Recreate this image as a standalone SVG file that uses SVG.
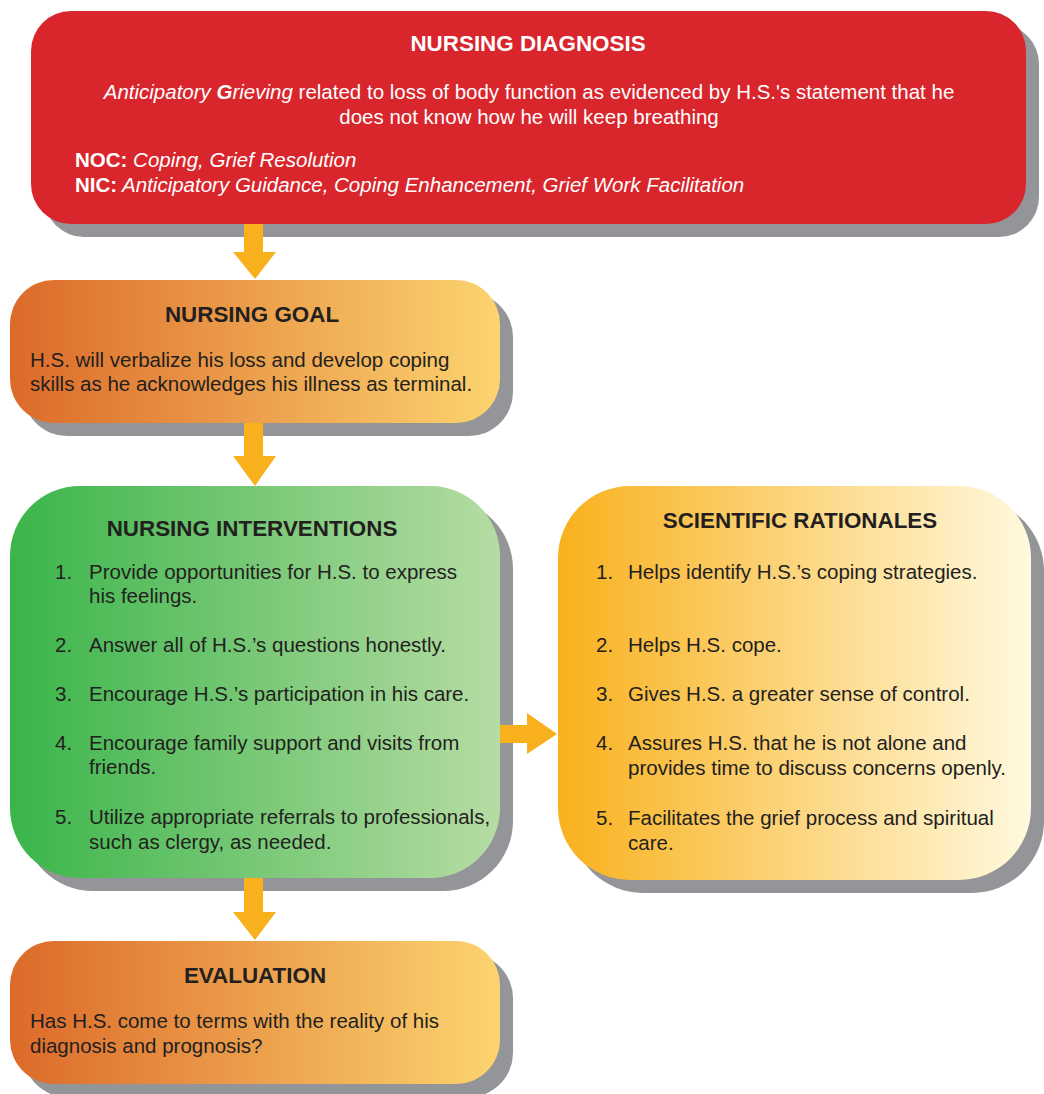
<svg xmlns="http://www.w3.org/2000/svg" width="1044" height="1094" viewBox="0 0 1044 1094">
<style>
text{font-family:"Liberation Sans",Arial,Helvetica,sans-serif;font-size:20.5px;fill:#231f20}
.t{font-size:22.4px;font-weight:bold;text-anchor:middle}
.w{fill:#ffffff}
.c{text-anchor:middle}
.i{font-style:italic}
.b{font-weight:bold}
.sh{fill:#939598}
.ar{fill:#f8b01c}
</style>
<defs>
<linearGradient id="gOr" x1="0" y1="0" x2="1" y2="0"><stop offset="0" stop-color="#dc6a29"/><stop offset="1" stop-color="#fcd46f"/></linearGradient>
<linearGradient id="gGr" x1="0" y1="0" x2="1" y2="0"><stop offset="0" stop-color="#3ab54a"/><stop offset="1" stop-color="#b6dca3"/></linearGradient>
<linearGradient id="gYe" x1="0" y1="0" x2="1" y2="0"><stop offset="0" stop-color="#f9b11d"/><stop offset="1" stop-color="#fff9de"/></linearGradient>
</defs>

<g id="nursing-diagnosis">
<rect class="sh" x="44" y="24" width="995" height="213" rx="40"/>
<rect x="31" y="11" width="995" height="213" rx="40" fill="#d9252c"/>
<text class="t w" x="528" y="51">NURSING DIAGNOSIS</text>
<text class="c w" x="529" y="99"><tspan class="i">Anticipatory </tspan><tspan class="i b">G</tspan><tspan class="i">rieving</tspan> related to loss of body function as evidenced by H.S.'s statement that he</text>
<text class="c w" x="529" y="124">does not know how he will keep breathing</text>
<text class="w" x="75" y="167"><tspan class="b">NOC:</tspan><tspan class="i"> Coping, Grief Resolution</tspan></text>
<text class="w" x="75" y="192"><tspan class="b">NIC:</tspan><tspan class="i"> Anticipatory Guidance, Coping Enhancement, Grief Work Facilitation</tspan></text>
</g>

<g id="nursing-goal">
<rect class="sh" x="23" y="293" width="490" height="143" rx="44"/>
<rect x="10" y="280" width="490" height="143" rx="44" fill="url(#gOr)"/>
<text class="t" x="252" y="322">NURSING GOAL</text>
<text x="30" y="367">H.S. will verbalize his loss and develop coping</text>
<text x="30" y="391">skills as he acknowledges his illness as terminal.</text>
</g>

<g id="nursing-interventions">
<rect class="sh" x="23" y="499" width="490" height="392" rx="70"/>
<rect x="10" y="486" width="490" height="392" rx="70" fill="url(#gGr)"/>
<text class="t" x="252" y="536">NURSING INTERVENTIONS</text>
<text x="55" y="579">1.</text><text x="89" y="579">Provide opportunities for H.S. to express</text>
<text x="89" y="603">his feelings.</text>
<text x="55" y="652">2.</text><text x="89" y="652">Answer all of H.S.’s questions honestly.</text>
<text x="55" y="701">3.</text><text x="89" y="701">Encourage H.S.’s participation in his care.</text>
<text x="55" y="750">4.</text><text x="89" y="750">Encourage family support and visits from</text>
<text x="89" y="774">friends.</text>
<text x="55" y="824">5.</text><text x="89" y="824">Utilize appropriate referrals to professionals,</text>
<text x="89" y="849">such as clergy, as needed.</text>
</g>

<g id="scientific-rationales">
<rect class="sh" x="571" y="499" width="473" height="394" rx="72"/>
<rect x="558" y="486" width="473" height="394" rx="72" fill="url(#gYe)"/>
<text class="t" x="800" y="528">SCIENTIFIC RATIONALES</text>
<text x="596" y="579">1.</text><text x="628" y="579">Helps identify H.S.’s coping strategies.</text>
<text x="596" y="652">2.</text><text x="628" y="652">Helps H.S. cope.</text>
<text x="596" y="701">3.</text><text x="628" y="701">Gives H.S. a greater sense of control.</text>
<text x="596" y="750">4.</text><text x="628" y="750">Assures H.S. that he is not alone and</text>
<text x="628" y="775">provides time to discuss concerns openly.</text>
<text x="596" y="825">5.</text><text x="628" y="825">Facilitates the grief process and spiritual</text>
<text x="628" y="850">care.</text>
</g>

<g id="evaluation">
<rect class="sh" x="23" y="954" width="490" height="143" rx="44"/>
<rect x="10" y="941" width="490" height="143" rx="44" fill="url(#gOr)"/>
<text class="t" x="255" y="983">EVALUATION</text>
<text x="30" y="1028">Has H.S. come to terms with the reality of his</text>
<text x="30" y="1053">diagnosis and prognosis?</text>
</g>

<g id="connectors">
<polygon class="ar" points="244,224 263,224 263,252 276,252 255,279 233,252 244,252"/>
<polygon class="ar" points="244,423 263,423 263,456 276,456 255,486 233,456 244,456"/>
<polygon class="ar" points="244,878 263,878 263,912 276,912 255,940 233,912 244,912"/>
<polygon class="ar" points="500,725 527,725 527,713 557,734 527,754 527,743 500,743"/>
</g>
</svg>
